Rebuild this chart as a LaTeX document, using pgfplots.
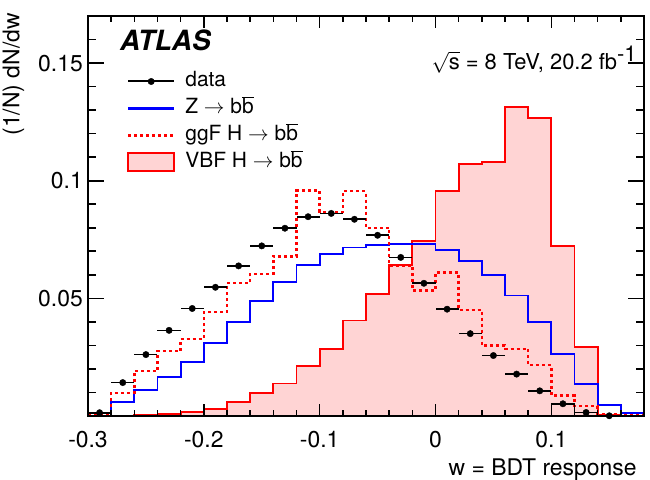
\documentclass[border=0pt]{standalone}
\usepackage{pgfplots}
\pgfplotsset{compat=1.18}
\usepackage{pgfplotstable}
\usepackage{fontspec}
\setmainfont{TeX Gyre Heros}
\usetikzlibrary{calc}
\definecolor{vbffill}{RGB}{255,212,212}
\newcommand{\bbbar}{b$\overline{\mbox{b}}$}

\pgfplotstableread{
edge Z ggF VBF
-0.30 0.0012 0.0008 0.0000
-0.28 0.0058 0.0098 0.0002
-0.26 0.0110 0.0190 0.0004
-0.24 0.0166 0.0275 0.0008
-0.22 0.0230 0.0328 0.0018
-0.20 0.0310 0.0441 0.0028
-0.18 0.0400 0.0564 0.0060
-0.16 0.0488 0.0603 0.0099
-0.14 0.0570 0.0678 0.0138
-0.12 0.0640 0.0958 0.0211
-0.10 0.0688 0.0867 0.0286
-0.08 0.0716 0.0955 0.0406
-0.06 0.0727 0.0800 0.0519
-0.04 0.0730 0.0638 0.0643
-0.02 0.0730 0.0533 0.0744
0.00 0.0705 0.0610 0.0955
0.02 0.0660 0.0451 0.1070
0.04 0.0600 0.0300 0.1080
0.06 0.0512 0.0286 0.1315
0.08 0.0399 0.0216 0.1265
0.10 0.0265 0.0087 0.0723
0.12 0.0137 0.0042 0.0293
0.14 0.0048 0.0009 0.0004
0.16 0.0011 0.0003 0.0000
0.18 0.0011 0.0003 0.0000
}\hist

\pgfplotstableread{
w y
-0.29 0.0014
-0.27 0.0142
-0.25 0.0261
-0.23 0.0364
-0.21 0.0457
-0.19 0.0547
-0.17 0.0638
-0.15 0.0723
-0.13 0.0798
-0.11 0.0847
-0.09 0.0861
-0.07 0.0836
-0.05 0.0768
-0.03 0.0674
-0.01 0.0564
0.01 0.0454
0.03 0.0350
0.05 0.0257
0.07 0.0178
0.09 0.0107
0.11 0.0052
0.13 0.0015
0.15 0.0001
}\data

\begin{document}
\begin{tikzpicture}
\begin{axis}[
  name=ax,
  scale only axis,
  width=556bp, height=400bp,
  xmin=-0.3, xmax=0.18, ymin=0, ymax=0.17,
  axis on top,
  clip=false,
  xtick={-0.3,-0.2,-0.1,0,0.1},
  xticklabels={-0.3,-0.2,-0.1,0,0.1},
  minor xtick={-0.28,-0.26,-0.24,-0.22,-0.18,-0.16,-0.14,-0.12,-0.08,-0.06,-0.04,-0.02,0.02,0.04,0.06,0.08,0.12,0.14,0.16},
  ytick={0.05,0.1,0.15},
  yticklabels={0.05,0.1,0.15},
  minor ytick={0.01,0.02,0.03,0.04,0.06,0.07,0.08,0.09,0.11,0.12,0.13,0.14,0.16},
  tick align=inside,
  axis line style={line width=1.8bp},
  tick style={black, line width=1.6bp},
  xtick style={/pgfplots/major tick length=12bp, /pgfplots/minor tick length=6bp},
  ytick style={/pgfplots/major tick length=16bp, /pgfplots/minor tick length=8bp},
  tick label style={font=\fontsize{23}{27}\selectfont, inner sep=0pt},
  xticklabel shift=15bp,
  yticklabel shift=5bp,
  label style={font=\fontsize{23}{27}\selectfont},
  xlabel={w = BDT response},
  xlabel style={at={(axis description cs:0.987,-0.150)}, anchor=base east, inner sep=0pt},
  ylabel={(1/N) dN/dw},
  ylabel style={at={(axis description cs:-0.134,1.0075)}, anchor=east, inner sep=0pt},
  legend style={draw=none, fill=none, at={(axis description cs:0.0701,0.8625)}, anchor=north west,
    inner sep=0pt, outer sep=0pt, row sep=6bp, column sep=10bp,
    font=\fontsize{21}{25}\selectfont,
    nodes={inner sep=0pt, text height=16bp, text depth=5bp}},
  legend cell align=left,
]
\addlegendimage{legend image code/.code={\draw[black,line width=2bp] (0bp,0bp) -- (46bp,0bp); \fill[black] (23bp,0bp) circle (3.2bp);}}
\addlegendentry{data}
\addlegendimage{legend image code/.code={\draw[blue,line width=2.2bp] (0bp,0bp) -- (46bp,0bp);}}
\addlegendentry{Z $\rightarrow$ \bbbar}
\addlegendimage{legend image code/.code={\draw[red,line width=2.4bp,dash pattern=on 3bp off 3bp] (0bp,0bp) -- (46bp,0bp);}}
\addlegendentry{ggF H $\rightarrow$ \bbbar}
\addlegendimage{legend image code/.code={\draw[red,line width=2bp,fill=vbffill] (0bp,-9bp) rectangle (46bp,9bp);}}
\addlegendentry{VBF H $\rightarrow$ \bbbar}

\addplot[forget plot, const plot, draw=red, line width=1.9bp, fill=vbffill] table[x=edge,y=VBF]{\hist} \closedcycle;
\addplot[forget plot, const plot, draw=blue, line width=1.9bp] table[x=edge,y=Z]{\hist};
\addplot[forget plot, const plot, draw=red, line width=2.4bp, dash pattern=on 3bp off 3bp] table[x=edge,y=ggF]{\hist};
\addplot[forget plot, black, line width=1.6bp] coordinates {(-0.30,0.0014) (-0.28,0.0014) (-0.28,0)};
\addplot[forget plot, black, line width=1.6bp] coordinates {(0.10,0) (0.10,0.0052) (0.12,0.0052) (0.12,0.0015) (0.14,0.0015) (0.14,0)};
\addplot[forget plot, only marks, mark=*, mark size=3.2bp, black,
  error bars/.cd, x dir=both, x fixed=0.01, error mark=none,
  error bar style={line width=1.6bp}] table[x=w,y=y]{\data};

\node[anchor=base west, inner sep=0pt, font=\fontsize{28}{32}\selectfont\bfseries\itshape] at (axis description cs:0.0576,0.9125) {ATLAS};
\node[anchor=base east, inner sep=0pt, font=\fontsize{22}{26}\selectfont] at (axis description cs:0.988,0.8675) {$\sqrt{\mbox{s}}$ = 8 TeV, 20.2 fb$^{\mbox{-1}}$};
\end{axis}
\pgfresetboundingbox
\useasboundingbox ($(ax.south west)+(-88bp,-64bp)$) rectangle ($(ax.north east)+(6bp,16bp)$);
\end{tikzpicture}
\end{document}
